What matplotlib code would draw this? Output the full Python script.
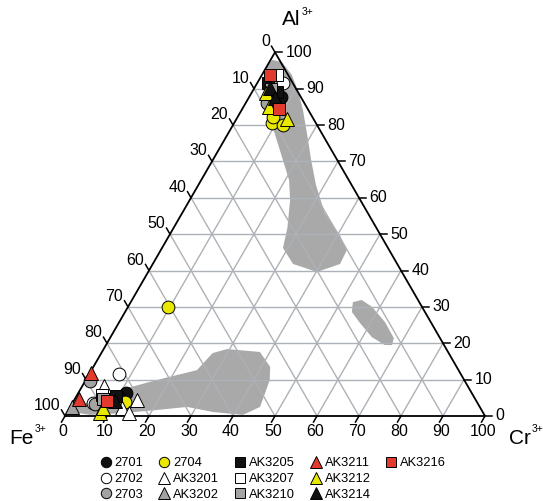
import numpy as np
import matplotlib
matplotlib.use("Agg")
import matplotlib.pyplot as plt
from matplotlib.lines import Line2D

plt.rcParams['font.family'] = ['Liberation Sans', 'DejaVu Sans']

# ---- data: ternary compositions in % (Al, Cr); Fe = 100 - Al - Cr ----
# shaded fields
field_top_al = [97.9, 97.3, 93.8, 89.1, 84.1, 77.8, 70.4, 63.5, 56.1, 49.5, 45.6, 41.8,
                39.6, 41.8, 46.2, 51.7, 59.4, 64.9, 73.1, 80.0, 85.5, 91.0, 95.7]
field_top_cr = [0.4, 3.0, 7.1, 11.0, 14.6, 18.7, 23.4, 28.0, 33.7, 40.8, 44.3, 44.6,
                40.2, 33.4, 28.8, 27.1, 23.9, 20.9, 14.6, 9.3, 5.1, 1.6, 0.0]
field_mid_al = [31.3, 31.9, 30.0, 25.8, 21.4, 19.5, 19.5, 21.7, 25.6, 28.6]
field_mid_cr = [52.9, 54.7, 58.1, 63.3, 67.6, 68.1, 66.4, 62.2, 57.4, 54.0]
field_low_al = [2.5, 6.6, 9.9, 12.6, 17.3, 18.4, 17.6, 13.5, 9.9, 2.5, 0.3,
                1.1, 2.5, 1.65, 0.8, 0.3, 1.1]
field_low_cr = [1.6, 8.1, 16.9, 25.1, 26.5, 29.4, 37.6, 42.1, 43.8, 45.2, 42.2,
                34.7, 27.8, 21.1, 13.4, 5.8, 1.35]

samples = ['2701', '2702', '2703', '2704', 'AK3201', 'AK3202', 'AK3205',
           'AK3207', 'AK3210', 'AK3211', 'AK3212', 'AK3214', 'AK3216']
al_values = {
    '2701': [87.7, 6.3, 5.0],
    '2702': [91.6, 11.5, 3.6],
    '2703': [86.0, 9.6, 3.2],
    '2704': [80.5, 80.0, 82.2, 29.9, 3.9],
    'AK3201': [8.3, 4.4, 2.2, 0.8],
    'AK3202': [2.5],
    'AK3205': [89.1, 91.6, 5.5],
    'AK3207': [93.8, 5.8],
    'AK3210': [90.0, 4.7],
    'AK3211': [11.9, 4.7],
    'AK3212': [81.7, 88.8, 85.0, 0.8, 2.2],
    'AK3214': [90.2, 87.4, 4.0],
    'AK3216': [93.8, 84.4, 4.1],
}
cr_values = {
    '2701': [7.5, 11.4, 10.6],
    '2702': [6.1, 7.1, 4.9],
    '2703': [5.0, 1.2, 5.5],
    '2704': [9.0, 11.9, 8.4, 9.5, 12.4],
    'AK3201': [5.2, 14.9, 12.5, 14.8],
    'AK3202': [0.4],
    'AK3205': [6.0, 2.5, 9.5],
    'AK3207': [3.6, 5.8],
    'AK3210': [4.0, 6.7],
    'AK3211': [0.2, 1.0],
    'AK3212': [12.0, 3.5, 6.0, 7.9, 8.0],
    'AK3214': [3.7, 6.3, 10.0],
    'AK3216': [1.9, 8.8, 7.9],
}
ticks = list(range(0, 101, 10))

# ---- styles ----
black, white, gray, yellow, red = '#111111', '#ffffff', '#a3a3a3', '#e8e800', '#e23a2c'
styles = {
    '2701': ('o', black), '2702': ('o', white), '2703': ('o', gray), '2704': ('o', yellow),
    'AK3201': ('^', white), 'AK3202': ('^', gray), 'AK3205': ('s', black),
    'AK3207': ('s', white), 'AK3210': ('s', gray), 'AK3211': ('^', red),
    'AK3212': ('^', yellow), 'AK3214': ('^', black), 'AK3216': ('s', red),
}
grid_color = '#adb1b8'
field_color = '#a9a9a9'
S3 = np.sqrt(3) / 2


def to_xy(al, cr):
    al = np.asarray(al, float) / 100
    cr = np.asarray(cr, float) / 100
    return cr + al / 2, al * S3


def px(x, y):
    # figure pixel position -> axes data position
    return (x - 65) / 420, (416 - y) / 420


fig = plt.figure(figsize=(5.43, 5.01), dpi=100)
ax = fig.add_axes([0, 0, 1, 1])
ax.set_xlim(-65 / 420, 478 / 420)
ax.set_ylim(-85 / 420, 416 / 420)
ax.axis('off')

# fields
for fal, fcr in [(field_top_al, field_top_cr), (field_mid_al, field_mid_cr),
                 (field_low_al, field_low_cr)]:
    x, y = to_xy(fal, fcr)
    ax.fill(x, y, color=field_color, lw=0, zorder=1)

# grid
for v in ticks[1:-1]:
    x, y = to_xy([v, v], [0, 100 - v])
    ax.plot(x, y, color=grid_color, lw=1, zorder=2)
    x, y = to_xy([0, 100 - v], [v, v])
    ax.plot(x, y, color=grid_color, lw=1, zorder=2)
    x, y = to_xy([100 - v, 0], [0, 100 - v])
    ax.plot(x, y, color=grid_color, lw=1, zorder=2)

# frame
x, y = to_xy([0, 0, 100, 0], [0, 100, 0, 0])
ax.plot(x, y, color='black', lw=1.3, zorder=3, solid_joinstyle='miter')

tl = 7 / 420
for v in ticks:
    # bottom (Cr)
    x, y = to_xy(0, v)
    ax.plot([x, x - tl * 0.5], [y, y - tl * S3], color='black', lw=1.1)
    ax.annotate(str(v), (x, y), xytext=(-1.5, -11.5), textcoords='offset points',
                ha='center', va='center', fontsize=11.5)
    # right (Al)
    x, y = to_xy(v, 100 - v)
    ax.plot([x, x + tl], [y, y], color='black', lw=1.1)
    ax.annotate(str(v), (x, y), xytext=(7.5, 0), textcoords='offset points',
                ha='left', va='center', fontsize=11.5)
    # left (Fe)
    x, y = to_xy(100 - v, 0)
    ax.plot([x, x - tl * 0.5], [y, y + tl * S3], color='black', lw=1.1)
    ax.annotate(str(v), (x, y), xytext=(-3.5, 7.5), textcoords='offset points',
                ha='right', va='center', fontsize=11.5)

# corner labels
ax.text(*px(34, 438), 'Fe', ha='right', va='center', fontsize=15)
ax.text(*px(35, 429), '3+', ha='left', va='center', fontsize=7.5)
ax.text(*px(531, 438), 'Cr', ha='right', va='center', fontsize=15)
ax.text(*px(532, 429), '3+', ha='left', va='center', fontsize=7.5)
ax.text(*px(300, 20), 'Al', ha='right', va='center', fontsize=15)
ax.text(*px(302, 12), '3+', ha='left', va='center', fontsize=7.5)

# data points
handles = []
for s in samples:
    m, c = styles[s]
    x, y = to_xy(al_values[s], cr_values[s])
    ms = 10.5 if m == '^' else 9.2
    ax.plot(x, y, ls='none', marker=m, ms=ms, mfc=c, mec='black', mew=0.7,
            zorder=4, clip_on=False)
    handles.append(Line2D([], [], ls='none', marker=m, ms=8 if m == '^' else 7.5,
                          mfc=c, mec='black', mew=0.7, label=s))
# two blank slots so the legend fills 3 rows per column
blank = Line2D([], [], ls='none', marker='')
handles += [blank, blank]
labels = samples + ['', '']

fig.legend(handles=handles, labels=labels, ncol=5, loc='upper left', frameon=False,
           bbox_to_anchor=(94 / 543, 1 - 451 / 501), borderpad=0,
           fontsize=9.3, handlelength=0.8, handletextpad=0.3,
           columnspacing=1.2, labelspacing=0.28)

fig.savefig('out.png', dpi=100)
